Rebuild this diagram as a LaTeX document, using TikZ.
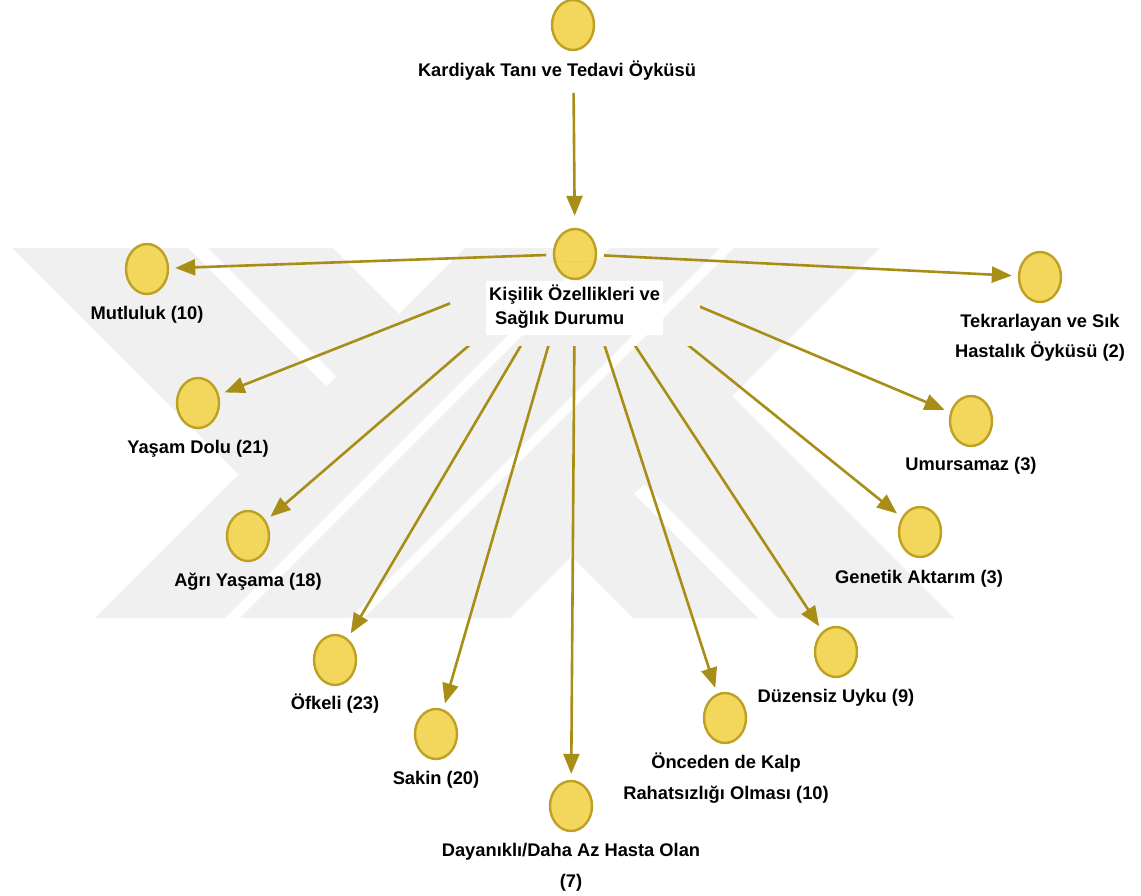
\documentclass[tikz,border=0pt]{standalone}
\usepackage{fontspec}
\setmainfont{Liberation Sans}
\usetikzlibrary{shapes.geometric,arrows.meta}
\definecolor{nodefill}{RGB}{243,215,93}
\definecolor{nodeedge}{RGB}{190,160,35}
\definecolor{arrowcol}{RGB}{168,142,22}
\definecolor{wmark}{RGB}{240,240,240}
\begin{document}
\begin{tikzpicture}[x=1pt,y=-1pt,
  dot/.style={ellipse,draw=nodeedge,fill=nodefill,line width=2.4pt,
    minimum width=42pt,minimum height=50pt,inner sep=0pt},
  lbl/.style={font=\bfseries\fontsize{18.3}{24}\selectfont,inner sep=0pt,
    anchor=base,text=black},
  link/.style={draw=arrowcol,line width=2.6pt,
    -{Triangle[length=20pt,width=16pt]},shorten >=6pt}]
\useasboundingbox (0,0) rectangle (1141,896);
\fill[white] (0,0) rectangle (1141,896);

% background emblem in light grey: diagonal bands
\begin{scope}[wmark]
  \fill (12,248) -- (188,248) -- (326.5,386.5) -- (238.5,474.5) -- cycle;
  \fill (208,248) -- (333,248) -- (399,314) -- (336.5,376.5) -- cycle;
  \fill (465,248) -- (595,248) -- (225,618) -- (95,618) -- cycle;
  \fill (610,248) -- (720,248) -- (350,618) -- (240,618) -- cycle;
  \fill (734,248) -- (880,248) -- (510,618) -- (364,618) -- cycle;
  \fill (758,618) -- (633,618) -- (567,552) -- (629.5,489.5) -- cycle;
  \fill (954,618) -- (778,618) -- (639.5,479.5) -- (727.5,391.5) -- cycle;
\end{scope}

% nodes
\node[dot] (kard) at (573,25) {};
\node[dot] (kis)  at (575,254) {};
\node[dot] (mut)  at (147,269) {};
\node[dot] (yas)  at (198,403) {};
\node[dot] (agr)  at (248,536) {};
\node[dot] (ofk)  at (335,660) {};
\node[dot] (sak)  at (436,734) {};
\node[dot] (day)  at (571,806) {};
\node[dot] (onc)  at (725,718) {};
\node[dot] (duz)  at (836,652) {};
\node[dot] (gen)  at (920,532) {};
\node[dot] (umu)  at (971,421) {};
\node[dot] (tek)  at (1040,277) {};

% labels
\node[lbl] (kardL) at (557,77) {Kardiyak Tanı ve Tedavi Öyküsü};
\node[lbl,anchor=base west,fill=white,inner sep=3pt] (kisL) at (486,301)
  {\begin{tabular}[t]{@{}l@{}}Kişilik Özellikleri ve\\\hspace*{6pt}Sağlık Durumu\end{tabular}};
\node[lbl] (mutL) at (147,319) {Mutluluk (10)};
\node[lbl] (yasL) at (198,453) {Yaşam Dolu (21)};
\node[lbl] (agrL) at (248,586) {Ağrı Yaşama (18)};
\node[lbl] (ofkL) at (335,709) {Öfkeli (23)};
\node[lbl] (sakL) at (436,784) {Sakin (20)};
\node[lbl,font=\bfseries\fontsize{18.3}{31}\selectfont] (dayL) at (571,856)
  {\begin{tabular}[t]{@{}c@{}}Dayanıklı/Daha Az Hasta Olan\\(7)\end{tabular}};
\node[lbl,font=\bfseries\fontsize{18.3}{31}\selectfont] (oncL) at (726,768)
  {\begin{tabular}[t]{@{}c@{}}Önceden de Kalp\\Rahatsızlığı Olması (10)\end{tabular}};
\node[lbl] (duzL) at (836,702) {Düzensiz Uyku (9)};
\node[lbl] (genL) at (919,583) {Genetik Aktarım (3)};
\node[lbl] (umuL) at (971,470) {Umursamaz (3)};
\node[lbl,font=\bfseries\fontsize{18.3}{30}\selectfont] (tekL) at (1040,327)
  {\begin{tabular}[t]{@{}c@{}}Tekrarlayan ve Sık\\Hastalık Öyküsü (2)\end{tabular}};

% connectors, kept clear of the label areas
\begin{scope}[even odd rule]
  \clip (-5,-5) rectangle (1146,901)
    (380,-5) rectangle (760,93)
    (546,225) rectangle (604,262)
    (450,262) rectangle (700,346);
  \draw[link,shorten >=12pt] (kard.center) -- (kis);
  \foreach \t in {mut,yas,agr,ofk,sak,day,onc,duz,gen,umu,tek}
    \draw[link] (kis.center) -- (\t);
\end{scope}
\end{tikzpicture}
\end{document}
